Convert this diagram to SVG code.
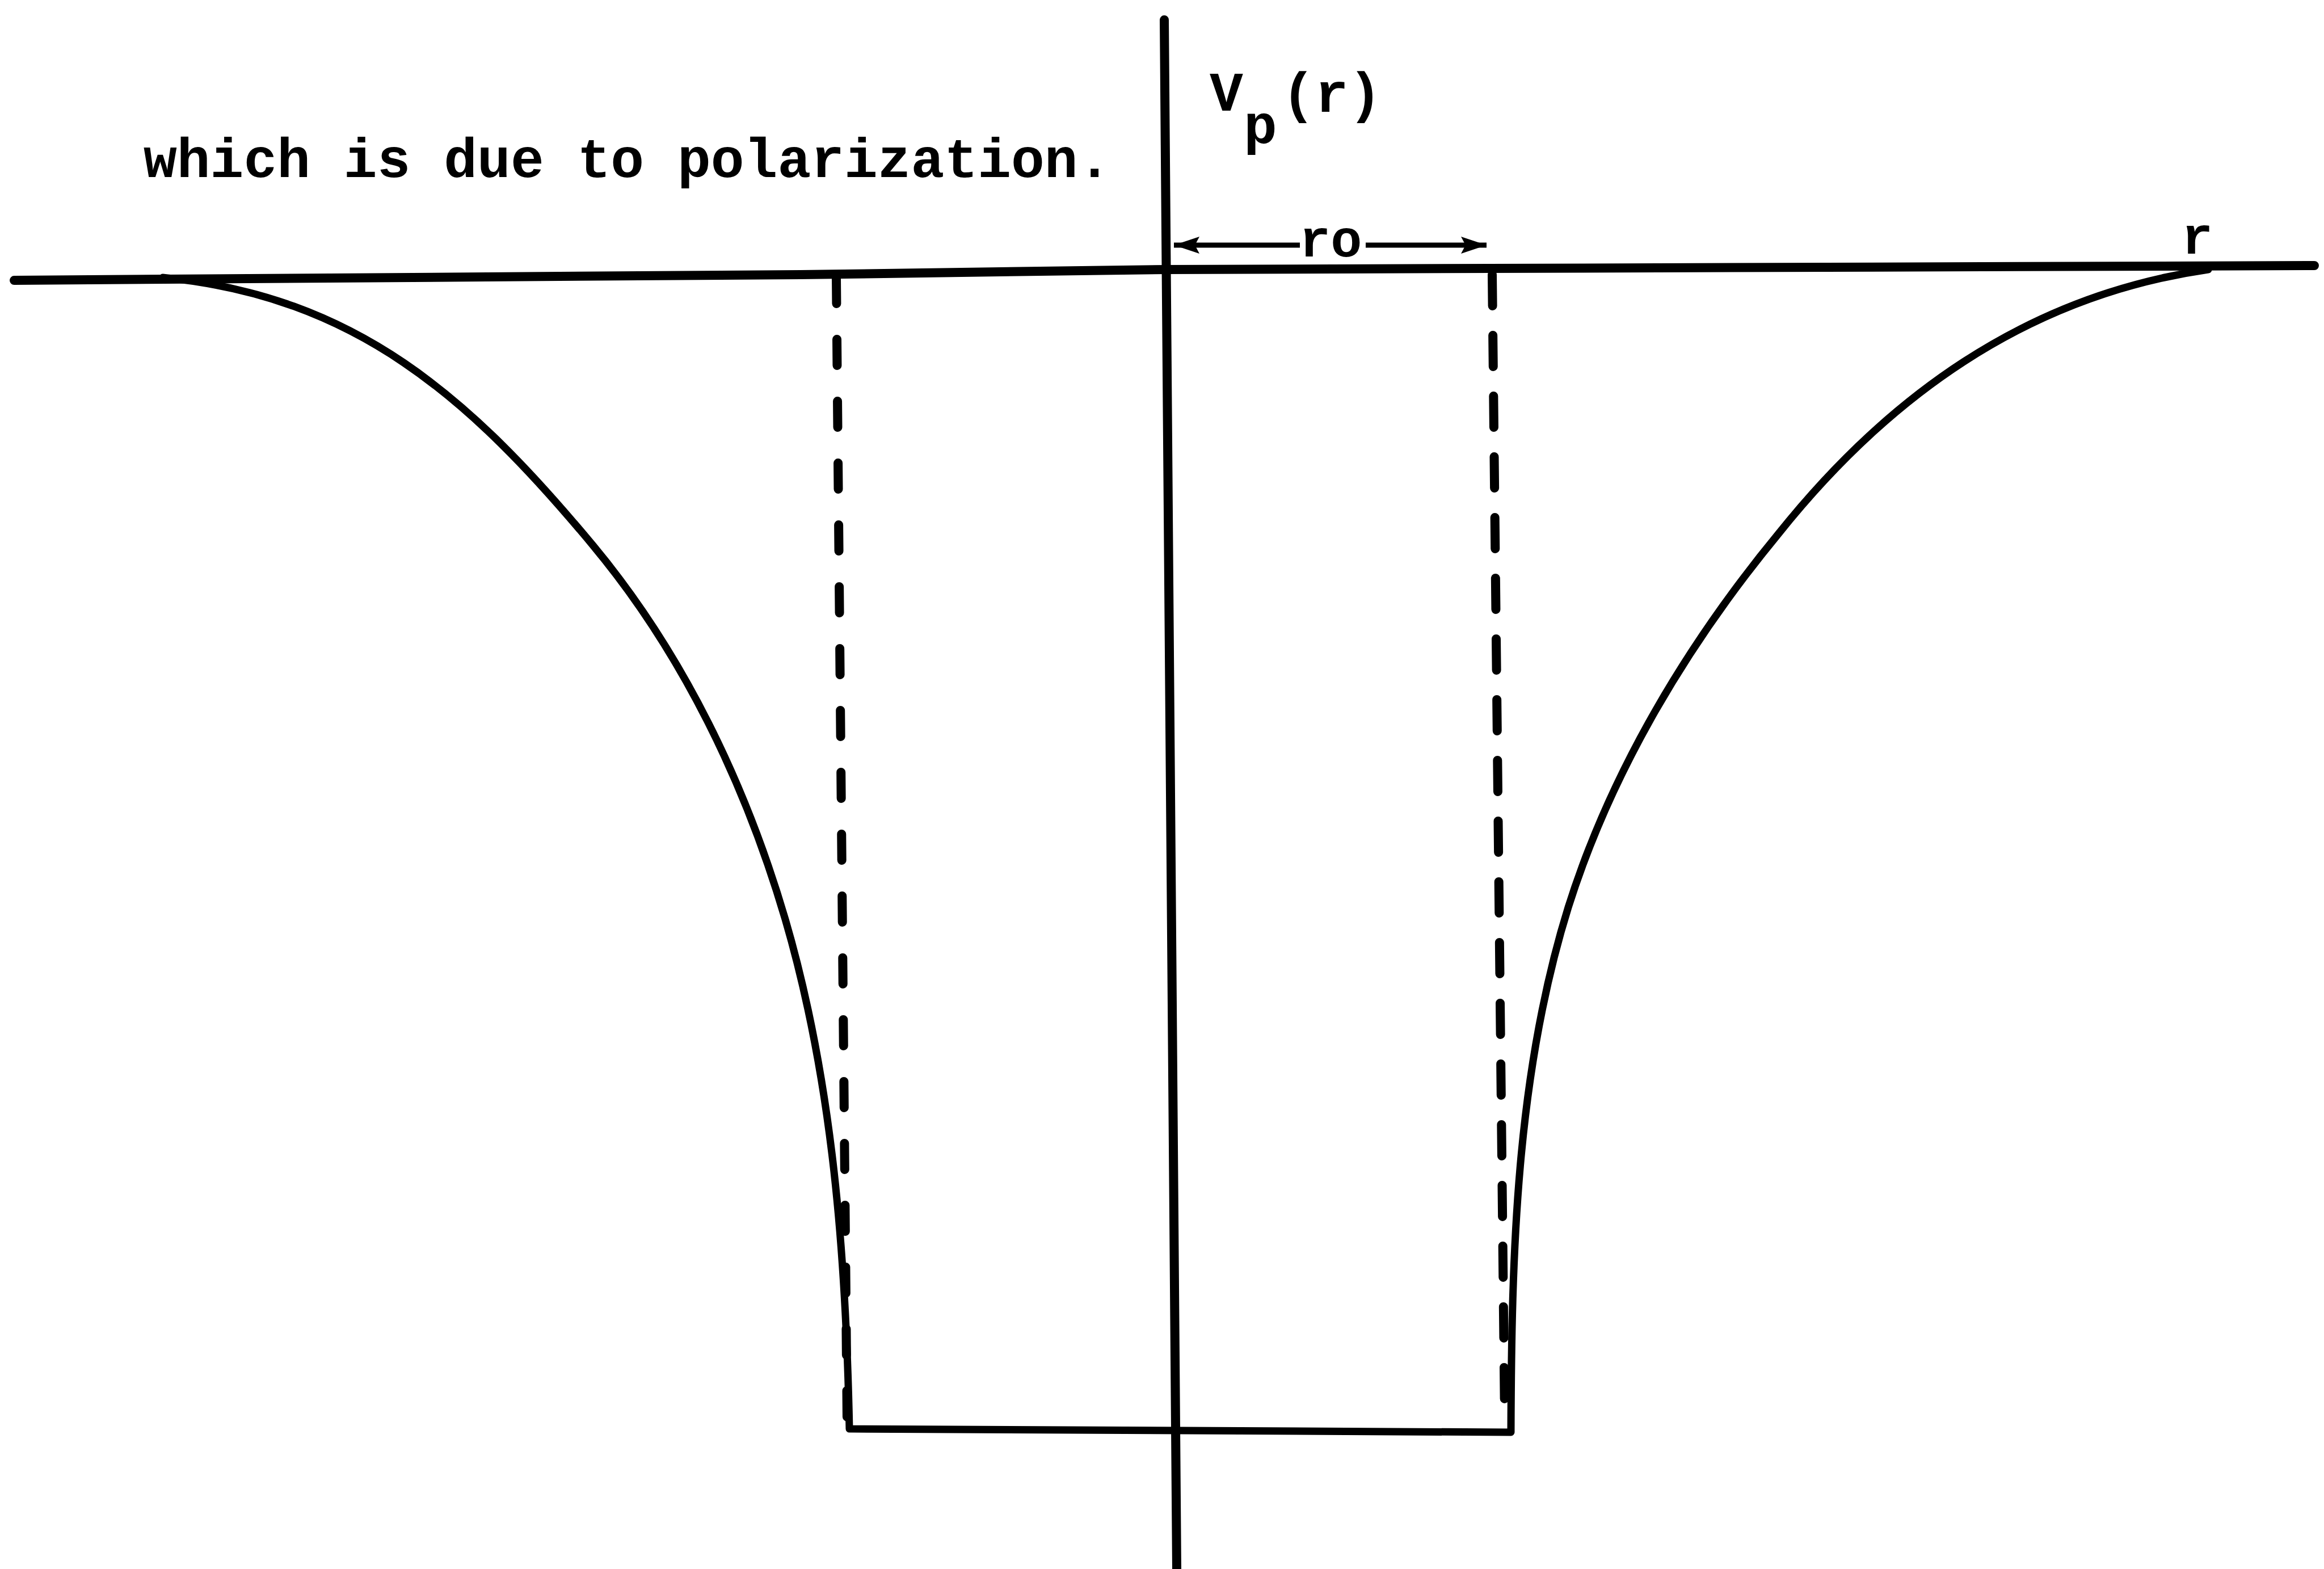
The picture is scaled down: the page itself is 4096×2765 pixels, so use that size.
<svg xmlns="http://www.w3.org/2000/svg" width="4096" height="2765" viewBox="0 0 4096 2765">
<style>
.ln{fill:none;stroke:#000;stroke-linecap:round;stroke-linejoin:round}
.ax{stroke-width:16}
.cv{stroke-width:13}
.dl{stroke-width:16}
.ar{fill:none;stroke:#000;stroke-width:9;stroke-linecap:butt}
.t{font-family:"Liberation Mono","Courier New",monospace;font-weight:bold;fill:#000}
</style>
<defs>
<marker id="ah" markerUnits="userSpaceOnUse" viewBox="0 0 45 30" refX="45" refY="15" markerWidth="45" markerHeight="30" orient="auto-start-reverse">
<path d="M0,0 L45,15 L0,30 L8,15 z" fill="#000"/>
</marker>
</defs>
<rect width="4096" height="2765" fill="#fff"/>
<g id="axes">
<path class="ln ax" d="M25,494 L1411,484 L2055,475 L4079,468"/>
<path class="ln ax" d="M2052,35 L2074,2765"/>
</g>
<g id="potential">
<path class="ln cv" d="M287,489 C627,522 828,700 1045,961 C1204,1152 1314,1382 1384,1620 C1468,1907 1491,2215 1497,2518 L2663,2524 C2664,2212 2672,1894 2764,1599 C2840,1358 2975,1134 3135,940 C3323,705 3566,522 3892,475"/>
</g>
<g id="square-well">
<path class="ln dl" stroke-dasharray="46 63" d="M1474,489 L1493,2505"/>
<path class="ln dl" stroke-dasharray="55 52" d="M2630,484 L2652,2500"/>
</g>
<g id="ro-dimension">
<path class="ar" marker-start="url(#ah)" d="M2069,432 L2291,432"/>
<path class="ar" marker-end="url(#ah)" d="M2407,432 L2620,432"/>
<text class="t" font-size="92" x="2290" y="452">ro</text>
</g>
<g id="labels">
<text class="t" font-size="98" x="253" y="312">which is due to polarization.</text>
<text class="t" font-size="98" x="2132" y="195">V</text>
<text class="t" font-size="98" x="2192" y="253">p</text>
<text class="t" font-size="98" x="2259" y="197">(r)</text>
<text class="t" font-size="92" x="3845" y="447">r</text>
</g>
</svg>
